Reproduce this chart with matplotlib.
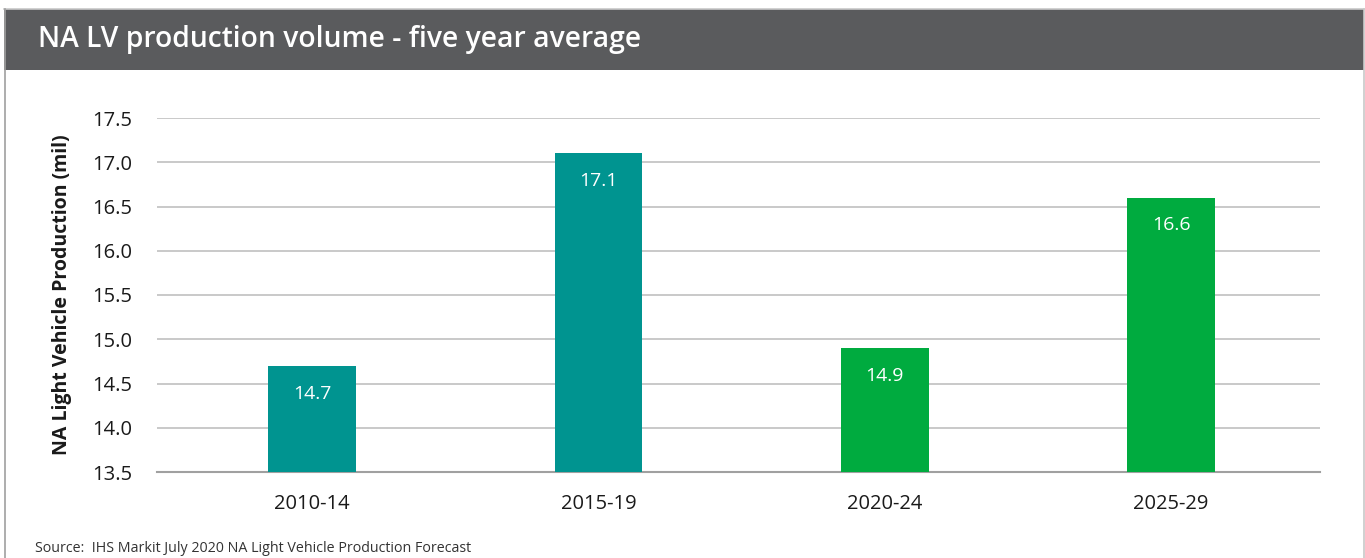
import matplotlib
matplotlib.use('Agg')
import matplotlib.pyplot as plt
from matplotlib.patches import Rectangle
from matplotlib.lines import Line2D

# data
periods = ['2010-14', '2015-19', '2020-24', '2025-29']
volumes = [14.7, 17.1, 14.9, 16.6]
bar_colors = ['#009490', '#009490', '#00ab3f', '#00ab3f']
yticks = [13.5, 14.0, 14.5, 15.0, 15.5, 16.0, 16.5, 17.0, 17.5]

plt.rcParams['font.family'] = ['Open Sans', 'DejaVu Sans']

W, H = 1365, 558
fig = plt.figure(figsize=(W / 100, H / 100), dpi=100)
fig.patch.set_facecolor('white')

# frame: top line, side borders, header band
fig.add_artist(Rectangle((4 / W, 1 - 70 / H), 1360 / W, 61 / H,
                         transform=fig.transFigure, color='#5a5b5d', lw=0))
fig.add_artist(Line2D([4 / W, 1364 / W], [1 - 8.5 / H, 1 - 8.5 / H],
                      transform=fig.transFigure, color='#c8c8c8', lw=1.2))
fig.add_artist(Line2D([4.5 / W, 4.5 / W], [0, 1 - 9 / H],
                      transform=fig.transFigure, color='#a0a0a0', lw=1.2))
fig.add_artist(Line2D([1364 / W, 1364 / W], [0, 1 - 9 / H],
                      transform=fig.transFigure, color='#c8c8c8', lw=1.2))

fig.text(38 / W, 1 - 40 / H, 'NA LV production volume - five year average',
         color='white', fontsize=20.3, fontweight='semibold', va='center', ha='left')

ax = fig.add_axes([157 / W, 1 - 472 / H, (1320 - 157) / W, (472 - 118) / H])
x = range(len(periods))
bars = ax.bar(x, volumes, width=0.307, color=bar_colors, zorder=3)
for i, v in enumerate(volumes):
    ax.annotate(f'{v:.1f}', (i, v), xytext=(0, -20), textcoords='offset points',
                ha='center', va='center', color='white', fontsize=14, zorder=4)

ax.set_ylim(13.5, 17.5)
ax.set_xlim(-0.542, 3.52)
ax.set_yticks(yticks)
ax.set_yticklabels([f'{t:.1f}' for t in yticks])
ax.set_xticks(list(x))
ax.set_xticklabels(periods)
ax.grid(axis='y', color='#c0c0c0', lw=1.2, zorder=0)
ax.tick_params(length=0, labelsize=14.5, colors='#1a1a1a')
ax.tick_params(axis='y', pad=18)
ax.tick_params(axis='x', pad=16)
for s in ['top', 'right', 'left']:
    ax.spines[s].set_visible(False)
ax.spines['bottom'].set_color('#a0a0a0')
ax.spines['bottom'].set_linewidth(1.5)
ax.set_ylabel('NA Light Vehicle Production (mil)', fontsize=14, fontweight='bold',
              color='#1a1a1a', labelpad=14)

fig.text(35 / W, 1 - 549 / H, 'Source:  IHS Markit July 2020 NA Light Vehicle Production Forecast',
         fontsize=10.3, color='#333333', va='center', ha='left')

fig.savefig('out.png', dpi=100)
